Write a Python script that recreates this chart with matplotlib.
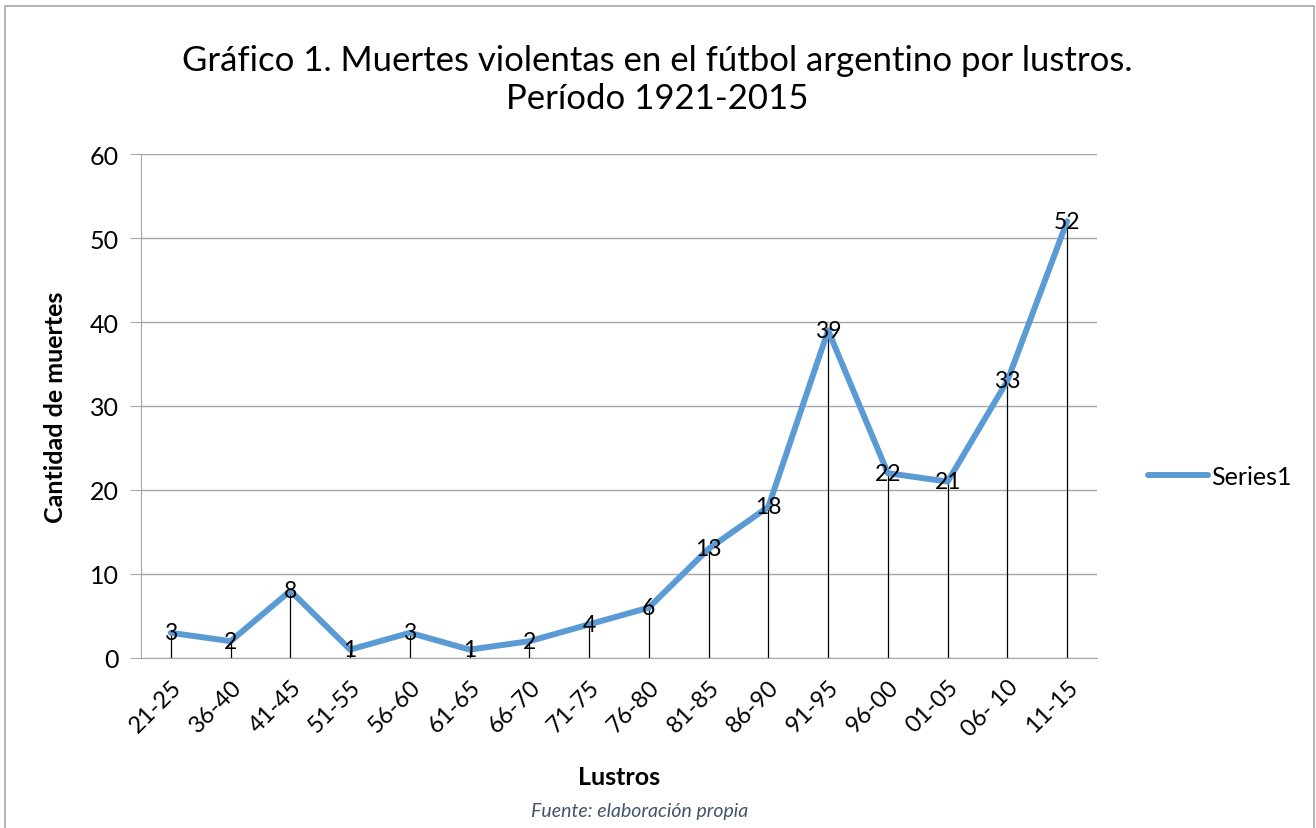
import numpy as np
import matplotlib.pyplot as plt
from matplotlib.patches import Rectangle

lustros = ['21-25', '36-40', '41-45', '51-55', '56-60', '61-65', '66-70', '71-75',
           '76-80', '81-85', '86-90', '91-95', '96-00', '01-05', '06- 10', '11-15']
muertes = [3, 2, 8, 1, 3, 1, 2, 4, 6, 13, 18, 39, 22, 21, 33, 52]

plt.rcParams['font.family'] = ['Lato', 'DejaVu Sans']

fig = plt.figure(figsize=(13.16, 8.29), dpi=100)
ax = fig.add_axes([141/1316, 1 - 659/829, (1097-141)/1316, (659-155)/829])

x = np.arange(len(lustros))
# drop lines
ax.vlines(x, 0, muertes, color='black', lw=0.9, zorder=2)
ax.plot(x, muertes, color='#5b9bd5', lw=4.3, solid_capstyle='round',
        solid_joinstyle='round', label='Series1', zorder=3)
for xi, v in zip(x, muertes):
    ax.text(xi, v, str(v), ha='center', va='center', fontsize=16.5, zorder=4)

ax.set_xlim(-0.5, len(lustros) - 0.5)
ax.set_ylim(0, 60)
ax.set_yticks(range(0, 61, 10))
ax.yaxis.grid(True, color='#a6a6a6', lw=1)
ax.set_axisbelow(True)
ax.set_xticks(x)
ax.set_xticklabels(lustros, rotation=45, ha='right', rotation_mode='anchor', fontsize=17)
ax.tick_params(axis='x', length=0, pad=13)
ax.tick_params(axis='y', length=8, color='#a6a6a6', labelsize=18, pad=8)
for s in ['top', 'right']:
    ax.spines[s].set_visible(False)
ax.spines['left'].set_color('#a6a6a6')
ax.spines['bottom'].set_color('#a6a6a6')

ax.set_xlabel('Lustros', fontsize=18, fontweight='bold', labelpad=18)
ax.set_ylabel('Cantidad de muertes', fontsize=18, fontweight='bold', labelpad=16)

fig.text(657/1316, 1 - 80/829,
         'Gráfico 1. Muertes violentas en el fútbol argentino por lustros.\nPeríodo 1921-2015',
         ha='center', va='center', fontsize=25, linespacing=1.25)

ax.legend(loc='center left', bbox_to_anchor=(1.03, 0.36), frameon=False,
          fontsize=18, handlelength=2.4, handletextpad=0.1)

fig.text(640/1316, 1 - 812/829, 'Fuente: elaboración propia', ha='center', va='center',
         fontsize=14, style='italic', color='#44546a')

fig.patches.append(Rectangle((5/1316, -0.05), 1309/1316, 1.05 - 7/829,
                             transform=fig.transFigure, fill=False,
                             edgecolor='#a6a6a6', lw=1.2))

fig.savefig('out.png', dpi=100)
